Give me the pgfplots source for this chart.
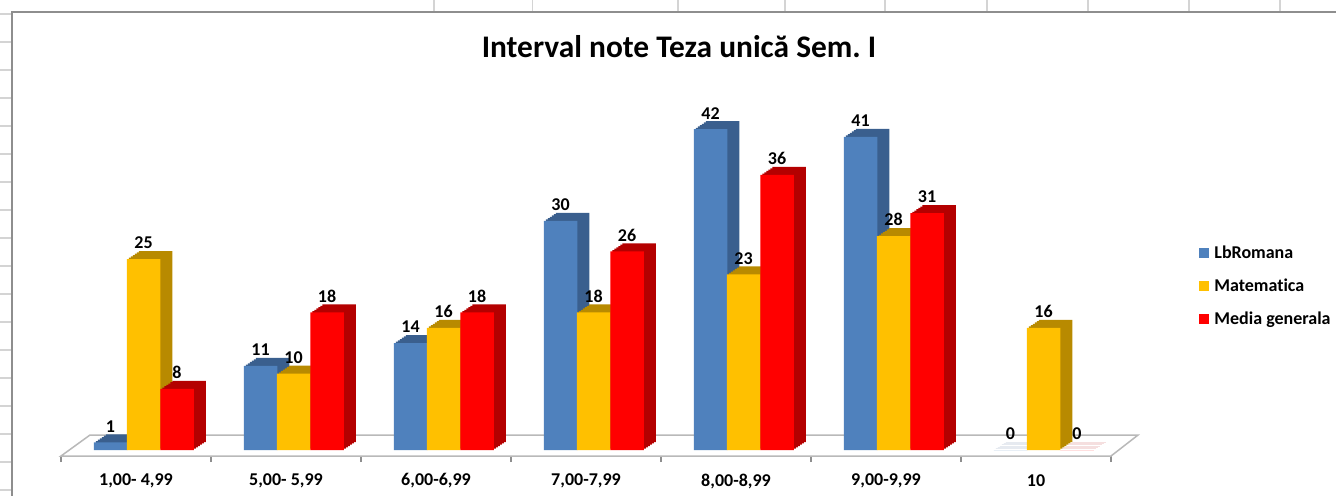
\documentclass[border=0pt]{standalone}
\usepackage{fontspec}
\setmainfont{Carlito}[Ligatures=CommonOff]
\usepackage{pgfplots}
\pgfplotsset{compat=1.18}
\frenchspacing
\definecolor{blueC}{HTML}{4F81BD}
\definecolor{blueD}{HTML}{3A5F8E}
\definecolor{yelC}{HTML}{FFC000}
\definecolor{yelD}{HTML}{B88A00}
\definecolor{redC}{HTML}{FF0000}
\definecolor{redD}{HTML}{B40000}
\definecolor{frameC}{HTML}{8E8E8E}
\definecolor{gridC}{HTML}{D4D4D4}
\tikzset{ext/.style={
 preaction={fill=#1,transform canvas={shift={(6pt,4pt)}}},
 preaction={fill=#1,transform canvas={shift={(5pt,3.333pt)}}},
 preaction={fill=#1,transform canvas={shift={(4pt,2.667pt)}}},
 preaction={fill=#1,transform canvas={shift={(3pt,2pt)}}},
 preaction={fill=#1,transform canvas={shift={(2pt,1.333pt)}}},
 preaction={fill=#1,transform canvas={shift={(1pt,0.667pt)}}}}}
\begin{document}
\begin{tikzpicture}
\path[use as bounding box] (-30.5pt,-19.5pt) rectangle (637.5pt,228pt);
\begin{scope}[x=0.5pt,y=-0.5pt,shift={(-30.5pt,228pt)}]
 \foreach \X in {434,532.5,678,785,885,987,1088,1189,1280} \draw[gridC,line width=0.75pt] (\X,0) -- (\X,12);
 \foreach \k in {0,...,17} \draw[gridC,line width=0.75pt] (0,14+28*\k) -- (11,14+28*\k);
 \draw[frameC,line width=1pt] (12,500) -- (12,12) -- (1340,12);
\end{scope}
\begin{axis}[
 at={(0,0)}, anchor=south west,
 scale only axis, width=525pt, height=178.72pt,
 xmin=-0.5, xmax=6.5, ymin=-0.785, ymax=46,
 clip=false,
 axis line style={draw=none},
 ytick=\empty,
 xtick={0,...,6},
 xticklabels={{1,00- 4,99},{5,00- 5,99},{6,00-6,99},{7,00-7,99},{8,00-8,99},{9,00-9,99},10},
 major tick length=0pt,
 tick pos=left,
 tick align=outside,
 tick style={draw=frameC, line width=0.6pt},
 xticklabel style={font=\fontsize{9}{11}\selectfont\bfseries, anchor=center, yshift=-12.5pt},
 extra x ticks={-0.5,0.5,...,6.5},
 extra x tick labels={},
 extra x tick style={major tick length=3pt},
 ybar, bar width=16.75pt,
 nodes near coords,
 every node near coord/.append style={font=\fontsize{9}{11}\selectfont\bfseries, text=black, yshift=1.5pt},
 /pgf/number format/assume math mode=true,
 title={Interval note Teza unică Sem. I},
 title style={font=\fontsize{15.7}{19}\selectfont\bfseries, at={(axis description cs:0.5886,1.080)}, anchor=base},
 legend style={at={(axis description cs:1.0838,0.586)}, anchor=north west, draw=none, fill=none, inner sep=0pt,
   font=\fontsize{9}{11}\selectfont\bfseries, row sep=8.5pt, column sep=2.5pt,
   nodes={inner sep=0pt, text height=6pt, text depth=2pt, anchor=base west}},
 legend cell align=left,
 legend image code/.code={\fill[#1] (0pt,0.25pt) rectangle (5pt,5.25pt);},
]
\draw[gray!55, line width=0.75pt, fill=white] (axis cs:-0.5,-0.785) -- (axis cs:6.5,-0.785) -- (axis cs:6.68,1.96) -- (axis cs:-0.307,1.96) -- cycle;
\addlegendimage{fill=blueC, draw=none}
\addlegendentry{LbRomana}
\addlegendimage{fill=yelC, draw=none}
\addlegendentry{Matematica}
\addlegendimage{fill=redC, draw=none}
\addlegendentry{Media generala}
\addplot[forget plot, fill=blueC, draw=none, ext=blueD, bar shift=-12.75pt] coordinates {(0,1) (1,11) (2,14) (3,30) (4,42) (5,41) (6,0)};
\addplot[forget plot, fill=yelC, draw=none, ext=yelD, bar shift=3.75pt] coordinates {(0,25) (1,10) (2,16) (3,18) (4,23) (5,28) (6,16)};
\addplot[forget plot, fill=redC, draw=none, ext=redD, bar shift=20.5pt] coordinates {(0,8) (1,18) (2,18) (3,26) (4,36) (5,31) (6,0)};
\end{axis}
\end{tikzpicture}
\end{document}
